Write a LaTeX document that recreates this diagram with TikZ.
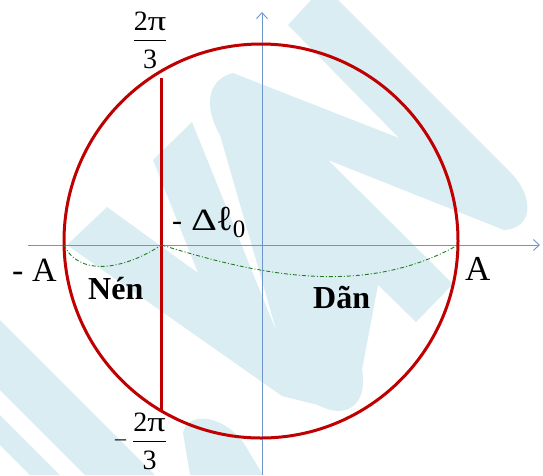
\documentclass[tikz,border=0pt]{standalone}
\usepackage{amsmath}
\usepackage{graphicx}
\usepackage{fontspec}
\setmainfont{Liberation Serif}
\usetikzlibrary{arrows.meta}
\definecolor{wm}{RGB}{218,237,243}
\definecolor{cred}{RGB}{192,0,0}
\definecolor{caxis}{RGB}{110,150,205}
\definecolor{cgreen}{RGB}{30,125,30}
\newcommand{\twopi}{2\scalebox{1.3}[1]{π}}
\newcommand{\fracmark}{\ensuremath{\dfrac{\mbox{\twopi}}{\raisebox{-4pt}{3}}}}
\tikzset{
  axis/.style={draw=caxis, line width=0.9pt, -{Straight Barb[length=6pt,width=11pt]}},
  wmark/.style={fill=wm, draw=none},
  lbl/.style={inner sep=0pt, anchor=base west, text=black},
  fr/.style={inner sep=0pt, anchor=base, text=black},
  springpath/.style={draw=cgreen, line width=0.9pt, dash pattern=on 4pt off 2pt on 1pt off 2pt},
}
\begin{document}
\begin{tikzpicture}[x=1pt,y=-1pt]
\useasboundingbox (0,0) rectangle (543,475);
% watermark
\fill[wmark] (233,73) -- (399,138) -- (288,25) -- (311,0) -- (338,0) -- (511,173)
  .. controls (533,195) and (535,228) .. (504,230) -- (328,160) -- (453,284) -- (416,322)
  -- (378,285) -- (362,370) .. controls (368,400) and (350,422) .. (318,405)
  -- (282,396) -- (67,245) -- (107,207) -- (198,273) -- (153,160) -- (192,122) -- (277,333)
  -- (220,135) .. controls (205,110) and (205,80) .. (233,73) -- cycle;
\fill[wmark] (0,320) -- (0,390) -- (85,475) -- (155,475) -- cycle;
\fill[wmark] (0,415) -- (0,445) -- (30,475) -- (60,475) -- cycle;
\fill[wmark] (183,433) .. controls (188,410) and (225,415) .. (245,445) -- (263,475) -- (190,475) -- cycle;
% named points
\coordinate (O) at (261,241);
\coordinate (mA) at (64,245);
\coordinate (P) at (161.5,245);
\coordinate (pA) at (458,245);
\coordinate (xs) at (28,245);
\coordinate (xe) at (540,245);
\coordinate (ys) at (262,475);
\coordinate (ye) at (262,12);
\coordinate (Vt) at (161.5,78);
\coordinate (Vb) at (161.5,411);
% axes
\draw[axis] (xs) -- (xe);
\draw[axis] (ys) -- (ye);
% circle and chord
\draw[cred, line width=3pt] (O) circle[radius=197];
\draw[cred, line width=3.5pt] (Vt) -- (Vb);
% spring paths
\draw[springpath] (mA) .. controls (78,275) and (120,272) .. (P);
\draw[springpath] (P) .. controls (250,272) and (360,300) .. (pA);
% labels
\node[lbl] (lmA) at (12,281) {\fontsize{34}{38}\selectfont - A};
\node[lbl] (lpA) at (465,280) {\fontsize{35}{38}\selectfont A};
\node[lbl] (lnen) at (88,299) {\fontsize{32}{36}\selectfont\bfseries Nén};
\node[lbl] (ldl) at (172,230) {\fontsize{30}{32}\selectfont -\hspace{9pt}\scalebox{1.3}[1]{\fontsize{31}{32}\selectfont Δ}\hspace{-1pt}{\fontsize{35}{36}\selectfont ℓ}\raisebox{-7pt}{\fontsize{25}{26}\selectfont 0}};
\node[lbl] (ldan) at (313,308) {\fontsize{32}{36}\selectfont\bfseries Dãn};
\node[fr] (ftop) at (150,47) {\fontsize{28}{32}\selectfont \fracmark};
\node[fr] (fbot) at (141,448) {\fontsize{28}{32}\selectfont \raisebox{3pt}{\fontsize{22}{22}\selectfont –}\hspace{6pt}\fracmark};
\end{tikzpicture}
\end{document}
